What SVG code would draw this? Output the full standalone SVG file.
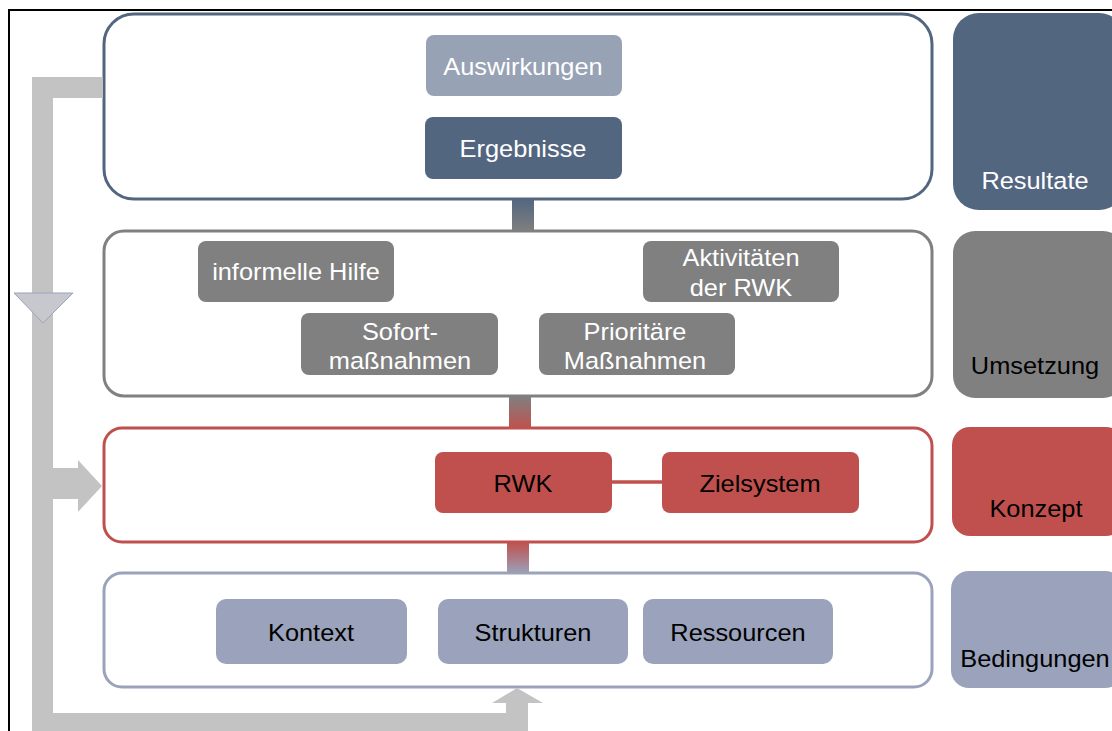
<svg xmlns="http://www.w3.org/2000/svg" width="1112" height="731" viewBox="0 0 1112 731">
<style>
text{font-family:"Liberation Sans",Arial,sans-serif;font-size:23.5px;text-anchor:middle;transform-box:fill-box;transform-origin:center;transform:scaleX(1.08)}
.w{fill:#ffffff}.b{fill:#000000}
.layer{fill:#ffffff;stroke-width:3}
.n1{fill:#536680}.n0{fill:#97a2b5}.ng{fill:#808080}.nr{fill:#c0504d}.nb{fill:#9aa3bb}
</style>
<defs>
<linearGradient id="g1" x1="0" y1="0" x2="0" y2="1"><stop offset="0" stop-color="#536680"/><stop offset="1" stop-color="#808080"/></linearGradient>
<linearGradient id="g2" x1="0" y1="0" x2="0" y2="1"><stop offset="0" stop-color="#808080"/><stop offset="1" stop-color="#c0504d"/></linearGradient>
<linearGradient id="g3" x1="0" y1="0" x2="0" y2="1"><stop offset="0" stop-color="#c0504d"/><stop offset="1" stop-color="#9aa3bb"/></linearGradient>
</defs>
<rect width="1112" height="731" fill="#ffffff"/>
<path d="M9 731 V10 H1112" fill="none" stroke="#000000" stroke-width="2"/>
<g id="layer-resultate"><rect class="layer" x="104" y="14" width="828" height="185" rx="30" stroke="#536680"/></g>
<g id="layer-umsetzung"><rect class="layer" x="104" y="231" width="828" height="165" rx="20" stroke="#808080"/></g>
<g id="layer-konzept"><rect class="layer" x="104" y="428" width="828" height="114" rx="18" stroke="#c0504d"/></g>
<g id="layer-bedingungen"><rect class="layer" x="104" y="573" width="828" height="114" rx="18" stroke="#9aa3bb"/></g>
<g id="connectors">
<polygon points="32,77 103,77 103,98 53,98 53,713 506,713 506,703 492,703 517,688 543,703 528,703 528,735 32,735" fill="#c3c3c3"/>
<polygon points="53,468 78,468 78,460 102,486 78,512 78,499 53,499" fill="#c3c3c3"/>
<polygon points="14,293 73,293 43,323" fill="#c6c8cd" stroke="#9aa3bb" stroke-width="1"/>
<rect x="512" y="199" width="22" height="33" fill="url(#g1)"/>
<rect x="509" y="396" width="22" height="33" fill="url(#g2)"/>
<rect x="507" y="542" width="22" height="32" fill="url(#g3)"/>
<line x1="611" y1="482" x2="662" y2="482" stroke="#c0504d" stroke-width="3.5"/>
</g>
<g id="auswirkungen"><rect class="n0" x="426" y="35" width="196" height="61" rx="8"/><text class="w" x="523" y="75">Auswirkungen</text></g>
<g id="ergebnisse"><rect class="n1" x="425" y="117" width="197" height="62" rx="8"/><text class="w" x="523" y="157">Ergebnisse</text></g>
<g id="informelle-hilfe"><rect class="ng" x="198" y="241" width="196" height="61" rx="8"/><text class="w" x="296" y="280">informelle Hilfe</text></g>
<g id="aktivitaeten"><rect class="ng" x="643" y="241" width="196" height="61" rx="8"/><text class="w" x="741" y="266">Aktivitäten</text><text class="w" x="741" y="296">der RWK</text></g>
<g id="sofortmassnahmen"><rect class="ng" x="301" y="313" width="197" height="62" rx="8"/><text class="w" x="400" y="340">Sofort-</text><text class="w" x="400" y="369">maßnahmen</text></g>
<g id="prioritaere"><rect class="ng" x="539" y="313" width="196" height="62" rx="8"/><text class="w" x="635" y="340">Prioritäre</text><text class="w" x="635" y="369">Maßnahmen</text></g>
<g id="rwk"><rect class="nr" x="435" y="452" width="177" height="61" rx="8"/><text class="b" x="523" y="492">RWK</text></g>
<g id="zielsystem"><rect class="nr" x="662" y="452" width="197" height="61" rx="8"/><text class="b" x="760" y="492">Zielsystem</text></g>
<g id="kontext"><rect class="nb" x="216" y="599" width="191" height="65" rx="10"/><text class="b" x="311" y="641">Kontext</text></g>
<g id="strukturen"><rect class="nb" x="438" y="599" width="190" height="65" rx="10"/><text class="b" x="533" y="641">Strukturen</text></g>
<g id="ressourcen"><rect class="nb" x="643" y="599" width="190" height="65" rx="10"/><text class="b" x="738" y="641">Ressourcen</text></g>
<g id="label-resultate"><rect class="n1" x="953" y="13" width="172" height="197" rx="26"/><text class="w" x="1035" y="189">Resultate</text></g>
<g id="label-umsetzung"><rect class="ng" x="953" y="231" width="172" height="167" rx="22"/><text class="b" x="1035" y="374">Umsetzung</text></g>
<g id="label-konzept"><rect class="nr" x="952" y="427" width="172" height="109" rx="18"/><text class="b" x="1036" y="517">Konzept</text></g>
<g id="label-bedingungen"><rect class="nb" x="951" y="571" width="172" height="117" rx="18"/><text class="b" x="1035" y="667">Bedingungen</text></g>
</svg>
